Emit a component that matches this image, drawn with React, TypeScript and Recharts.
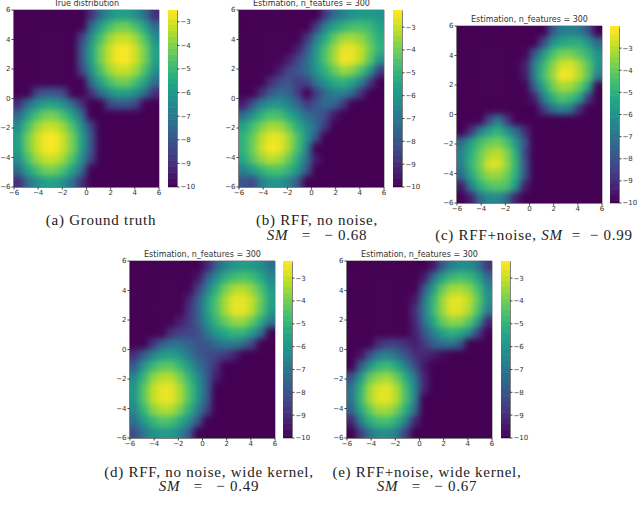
import { ScatterChart, Scatter, XAxis, YAxis, ReferenceArea } from "recharts";

// cell centres of the heat grid, left to right and top to bottom
const gridX = [-5.625, -4.875, -4.125, -3.375, -2.625, -1.875, -1.125, -0.375, 0.375, 1.125, 1.875, 2.625, 3.375, 4.125, 4.875, 5.625];
const gridY = [5.625, 4.875, 4.125, 3.375, 2.625, 1.875, 1.125, 0.375, -0.375, -1.125, -1.875, -2.625, -3.375, -4.125, -4.875, -5.625];

const axisTicks = [-6, -4, -2, 0, 2, 4, 6];
const barTicks = [-3, -4, -5, -6, -7, -8, -9, -10];
const barLevels = [-10, -9.75, -9.5, -9.25, -9, -8.75, -8.5, -8.25, -8, -7.75, -7.5, -7.25, -7, -6.75, -6.5, -6.25, -6, -5.75, -5.5, -5.25, -5, -4.75, -4.5, -4.25, -4, -3.75, -3.5, -3.25, -3, -2.75, -2.5, -2.25, -2];

const truthGrid = [
  [-10, -10, -10, -10, -10, -10, -10, -10, -9, -7.4, -6.4, -5.8, -5.8, -6.4, -7.4, -9],
  [-10, -10, -10, -10, -10, -10, -10, -10, -7.4, -5.8, -4.8, -4.2, -4.2, -4.8, -5.8, -7.4],
  [-10, -10, -10, -10, -10, -10, -10, -8.5, -6.4, -4.8, -3.7, -3.2, -3.2, -3.7, -4.8, -6.4],
  [-10, -10, -10, -10, -10, -10, -10, -8, -5.8, -4.2, -3.2, -2.6, -2.6, -3.2, -4.2, -5.8],
  [-10, -10, -10, -10, -10, -10, -10, -8, -5.8, -4.2, -3.2, -2.6, -2.6, -3.2, -4.2, -5.8],
  [-10, -10, -10, -10, -10, -10, -10, -8.5, -6.4, -4.8, -3.7, -3.2, -3.2, -3.7, -4.8, -6.4],
  [-10, -10, -10, -10, -10, -10, -10, -10, -7.4, -5.8, -4.8, -4.2, -4.2, -4.8, -5.8, -7.4],
  [-10, -10, -8.5, -8, -8, -8.5, -10, -10, -9, -7.4, -6.4, -5.8, -5.8, -6.4, -7.4, -9],
  [-9, -7.4, -6.4, -5.8, -5.8, -6.4, -7.4, -9, -10, -10, -8.5, -8, -8, -8.5, -10, -10],
  [-7.4, -5.8, -4.8, -4.2, -4.2, -4.8, -5.8, -7.4, -10, -10, -10, -10, -10, -10, -10, -10],
  [-6.4, -4.8, -3.7, -3.2, -3.2, -3.7, -4.8, -6.4, -8.5, -10, -10, -10, -10, -10, -10, -10],
  [-5.8, -4.2, -3.2, -2.6, -2.6, -3.2, -4.2, -5.8, -8, -10, -10, -10, -10, -10, -10, -10],
  [-5.8, -4.2, -3.2, -2.6, -2.6, -3.2, -4.2, -5.8, -8, -10, -10, -10, -10, -10, -10, -10],
  [-6.4, -4.8, -3.7, -3.2, -3.2, -3.7, -4.8, -6.4, -8.5, -10, -10, -10, -10, -10, -10, -10],
  [-7.4, -5.8, -4.8, -4.2, -4.2, -4.8, -5.8, -7.4, -10, -10, -10, -10, -10, -10, -10, -10],
  [-9, -7.4, -6.4, -5.8, -5.8, -6.4, -7.4, -9, -10, -10, -10, -10, -10, -10, -10, -10],
];

const rffGrid = [
  [-10, -10, -10, -10, -10, -10, -10, -10, -10, -8.7, -7.3, -6.7, -6.1, -5.9, -5.9, -6.1],
  [-10, -10, -10, -10, -10, -10, -10, -10, -8.7, -6.7, -5.6, -5.1, -4.7, -4.6, -4.9, -5.6],
  [-10, -10, -10, -10, -10, -10, -10, -8.9, -6.8, -5.4, -4.2, -3.5, -3.4, -3.7, -4.4, -5.3],
  [-10, -10, -10, -10, -10, -10, -9.4, -7.9, -6, -4.6, -3.5, -2.6, -2.6, -3.1, -4.1, -5.1],
  [-10, -10, -10, -10, -10, -9.4, -8.4, -7.3, -5.8, -4.5, -3.4, -2.4, -2.6, -3.2, -4.4, -6.1],
  [-10, -10, -10, -10, -9.4, -8.4, -8, -7.3, -6.1, -5.1, -4.2, -3.5, -3.8, -4.6, -6.1, -8.7],
  [-10, -10, -10, -9, -8.4, -8, -8.7, -8.4, -7, -6.1, -5.3, -5.1, -5.6, -6.7, -8.7, -10],
  [-10, -10, -9, -7.9, -7.3, -7.5, -8.7, -10, -8.7, -7.3, -6.7, -6.7, -7.3, -9, -10, -10],
  [-9.4, -8, -6.7, -6.1, -6.1, -6.7, -7.5, -8.7, -8, -7.3, -7.5, -8.7, -10, -10, -10, -10],
  [-7.3, -6.1, -5.1, -4.6, -4.7, -5.4, -6.3, -7.3, -7.7, -8.2, -9.5, -10, -10, -10, -10, -10],
  [-5.6, -4.7, -3.9, -3.4, -3.5, -4.2, -5.3, -6.3, -7.3, -8.7, -10, -10, -10, -10, -10, -10],
  [-5.1, -4.2, -3.1, -2.6, -2.6, -3.4, -4.6, -6.1, -8, -10, -10, -10, -10, -10, -10, -10],
  [-5.1, -4, -3, -2.4, -2.6, -3.4, -4.7, -6.7, -10, -10, -10, -10, -10, -10, -10, -10],
  [-5.4, -4.4, -3.6, -3.1, -3.4, -4.2, -5.3, -7.3, -9.5, -10, -10, -10, -10, -10, -10, -10],
  [-6.7, -5.9, -5.1, -4.6, -4.6, -5.1, -6.1, -8, -10, -10, -10, -10, -10, -10, -10, -10],
  [-8, -8.4, -6.7, -6.1, -6.1, -6.7, -8, -10, -10, -10, -10, -10, -10, -10, -10, -10],
];

const rffNoiseGrid = [
  [-10, -10, -10, -10, -10, -10, -10, -10, -10, -10, -8, -6.7, -6.6, -6.8, -8, -10],
  [-10, -10, -10, -10, -10, -10, -10, -10, -10, -8.4, -6.1, -5.4, -5.1, -5.1, -5.9, -7.3],
  [-10, -10, -10, -10, -10, -10, -10, -10, -8, -5.9, -4.5, -3.8, -3.8, -4.2, -4.9, -6.1],
  [-10, -10, -10, -10, -10, -10, -10, -9.4, -6.7, -4.9, -3.6, -2.7, -2.5, -3.2, -4.2, -5.9],
  [-10, -10, -10, -10, -10, -10, -10, -9.5, -6.7, -4.6, -3.4, -2.2, -2.3, -3, -4.2, -6.7],
  [-10, -10, -10, -10, -10, -10, -10, -10, -7.7, -5.4, -4, -3.2, -3.3, -4, -5.4, -10],
  [-10, -10, -10, -10, -10, -10, -10, -10, -9.4, -6.7, -5.1, -4.3, -4.6, -5.4, -8.7, -10],
  [-10, -10, -10, -10, -10, -10, -10, -10, -10, -8.7, -7, -6.4, -6.8, -9, -10, -10],
  [-10, -10, -10, -8.4, -6.7, -8.7, -10, -10, -10, -10, -10, -10, -10, -10, -10, -10],
  [-10, -9, -6.7, -5.6, -4.9, -6.1, -7.3, -9, -10, -10, -10, -10, -10, -10, -10, -10],
  [-7.3, -5.6, -4.6, -4, -3.8, -4.4, -5.9, -8, -10, -10, -10, -10, -10, -10, -10, -10],
  [-6.4, -5.1, -4, -3.2, -2.9, -3.6, -5.1, -8.4, -10, -10, -10, -10, -10, -10, -10, -10],
  [-6.7, -4.9, -3.8, -2.6, -2.5, -3.4, -4.9, -8, -10, -10, -10, -10, -10, -10, -10, -10],
  [-7.3, -5.4, -4.2, -3.4, -3.4, -3.9, -5.1, -8, -10, -10, -10, -10, -10, -10, -10, -10],
  [-9.4, -6.7, -5.1, -4.4, -4.2, -4.4, -5.9, -9.4, -10, -10, -10, -10, -10, -10, -10, -10],
  [-10, -9.4, -7.3, -6.4, -6.4, -7.3, -9.4, -10, -10, -10, -10, -10, -10, -10, -10, -10],
];

const wideGrid = [
  [-10, -10, -10, -10, -10, -10, -10, -10, -9.2, -7.8, -6.6, -6, -5.7, -5.9, -6.3, -7.2],
  [-10, -10, -10, -10, -10, -10, -10, -9.6, -7.8, -6.3, -5.2, -4.7, -4.5, -4.7, -5.4, -6.5],
  [-10, -10, -10, -10, -10, -10, -10, -8.6, -6.8, -5.2, -4, -3.3, -3.2, -3.7, -4.6, -5.9],
  [-10, -10, -10, -10, -10, -10, -9.3, -7.8, -5.8, -4.5, -3.4, -2.6, -2.6, -3.1, -4.2, -5.6],
  [-10, -10, -10, -10, -10, -10, -9, -7.6, -5.8, -4.5, -3.4, -2.6, -2.6, -3.2, -4.4, -5.9],
  [-10, -10, -10, -10, -10, -9.4, -8.8, -7.8, -6.2, -5, -4.2, -3.6, -3.6, -4.3, -5.4, -7],
  [-10, -10, -10, -10, -9, -8.6, -8.5, -8.2, -7, -6, -5.4, -5, -5.1, -5.9, -7.3, -10],
  [-10, -10, -8.9, -7.8, -7.2, -7.2, -7.6, -8, -8, -7.3, -6.9, -6.8, -7.3, -8.5, -10, -10],
  [-9, -7.8, -6.6, -5.9, -5.7, -6.1, -7, -7.8, -8.2, -8.5, -8.7, -9.3, -10, -10, -10, -10],
  [-7.8, -6, -4.9, -4.4, -4.3, -4.9, -5.9, -7, -8, -9, -10, -10, -10, -10, -10, -10],
  [-6.5, -5, -3.7, -3.2, -3.2, -3.9, -5, -6.3, -7.8, -9.4, -10, -10, -10, -10, -10, -10],
  [-6, -4.4, -3.1, -2.6, -2.6, -3.3, -4.5, -6, -7.7, -10, -10, -10, -10, -10, -10, -10],
  [-6, -4.4, -3.1, -2.6, -2.6, -3.3, -4.5, -6, -7.9, -10, -10, -10, -10, -10, -10, -10],
  [-6.5, -5, -3.8, -3.3, -3.3, -4, -5.2, -6.7, -8.6, -10, -10, -10, -10, -10, -10, -10],
  [-7.2, -6, -5, -4.5, -4.6, -5.3, -6.4, -8, -10, -10, -10, -10, -10, -10, -10, -10],
  [-8.2, -7, -6.2, -5.9, -5.9, -6.5, -7.8, -10, -10, -10, -10, -10, -10, -10, -10, -10],
];

const wideNoiseGrid = [
  [-10, -10, -10, -10, -10, -10, -10, -10, -10, -9.5, -7.8, -6.7, -6.2, -6.3, -7, -8.8],
  [-10, -10, -10, -10, -10, -10, -10, -10, -9.5, -7.2, -5.6, -4.8, -4.6, -4.8, -5.6, -7.3],
  [-10, -10, -10, -10, -10, -10, -10, -10, -8, -5.9, -4.2, -3.4, -3.3, -3.7, -4.7, -6.4],
  [-10, -10, -10, -10, -10, -10, -10, -9.5, -7, -5, -3.5, -2.6, -2.6, -3.1, -4.3, -6.1],
  [-10, -10, -10, -10, -10, -10, -10, -9, -6.8, -4.9, -3.5, -2.6, -2.7, -3.3, -4.6, -6.8],
  [-10, -10, -10, -10, -10, -10, -10, -9.2, -7.2, -5.5, -4.2, -3.6, -3.7, -4.4, -5.9, -9.2],
  [-10, -10, -10, -10, -10, -10, -10, -9.4, -8, -6.7, -5.6, -5.1, -5.4, -6.3, -8.7, -10],
  [-10, -10, -10, -9, -8.6, -8.6, -9, -9.4, -8.7, -7.8, -7.2, -7.1, -7.9, -10, -10, -10],
  [-10, -9.6, -8.1, -6.9, -6.6, -7.2, -8.1, -9, -9.2, -9.4, -9.8, -10, -10, -10, -10, -10],
  [-10, -7.8, -6, -5, -4.8, -5.4, -6.7, -8.2, -9.5, -10, -10, -10, -10, -10, -10, -10],
  [-8, -5.9, -4.2, -3.6, -3.4, -4.1, -5.3, -7, -9.2, -10, -10, -10, -10, -10, -10, -10],
  [-7, -5, -3.4, -2.7, -2.6, -3.3, -4.7, -6.5, -9.2, -10, -10, -10, -10, -10, -10, -10],
  [-7, -4.9, -3.3, -2.6, -2.6, -3.2, -4.6, -6.6, -10, -10, -10, -10, -10, -10, -10, -10],
  [-7.6, -5.4, -4.2, -3.4, -3.4, -4, -5.3, -7.3, -10, -10, -10, -10, -10, -10, -10, -10],
  [-9.2, -6.8, -5.2, -4.7, -4.6, -5.2, -6.7, -9.2, -10, -10, -10, -10, -10, -10, -10, -10],
  [-10, -8.6, -7, -6.3, -6.3, -6.8, -8.6, -10, -10, -10, -10, -10, -10, -10, -10, -10],
];

const viridis = ["#440154", "#482475", "#414487", "#355f8d", "#2a788e", "#21918c", "#22a884", "#44bf70", "#7ad151", "#bddf26", "#fde725"];

const PLOT_W = 145;
const PLOT_H = 177;
const PAD_LEFT = 30;
const PAD_TOP = 15;
const BAR_W = 9;

function hexRgb(hex: string) {
  return [1, 3, 5].map((i) => parseInt(hex.slice(i, i + 2), 16));
}

function colorFor(v: number, top: number) {
  const t = Math.min(1, Math.max(0, (v + 10) / (top + 10))) * (viridis.length - 1);
  const i = Math.min(viridis.length - 2, Math.floor(t));
  const a = hexRgb(viridis[i]);
  const b = hexRgb(viridis[i + 1]);
  const c = a.map((p, k) => Math.round(p + (b[k] - p) * (t - i)));
  return `rgb(${c[0]},${c[1]},${c[2]})`;
}

const fmt = (v: number) => String(v).replace("-", "\u2212");
const tickStyle = { fontSize: 7, fill: "#333", fontFamily: "DejaVu Sans" };

function HeatCell(props: any) {
  const { cx, cy, payload } = props;
  const w = PLOT_W / gridX.length;
  const h = PLOT_H / gridY.length;
  // edge cells run past the frame so the blur does not fade at the border
  const left = payload.col === 0 ? 14 : 0;
  const right = payload.col === gridX.length - 1 ? 14 : 0;
  const up = payload.row === 0 ? 14 : 0;
  const down = payload.row === gridY.length - 1 ? 14 : 0;
  return (
    <rect
      x={cx - w / 2 - left}
      y={cy - h / 2 - up}
      width={w + left + right + 0.5}
      height={h + up + down + 0.5}
      fill={payload.color}
    />
  );
}

function BarCell(props: any) {
  const { cy, payload } = props;
  const h = PLOT_H / ((payload.top + 10) / 0.25);
  return <rect x={0} y={cy - h / 2} width={BAR_W} height={h + 0.5} fill={payload.color} />;
}

function Panel({ grid, title, x, y, barX, top }: any) {
  const cells = grid.flatMap((row: number[], r: number) =>
    row.map((v, c) => ({ x: gridX[c], y: gridY[r], row: r, col: c, color: colorFor(v, top) }))
  );
  const levels = barLevels
    .filter((l) => l <= top + 0.125)
    .map((l) => ({ x: 0.5, y: l, top, color: colorFor(l, top) }));
  return (
    <>
      <div
        style={{
          position: "absolute",
          left: x - 20,
          top: y - 11,
          width: PLOT_W + 40,
          textAlign: "center",
          font: "8px 'DejaVu Sans'",
          color: "#333",
        }}
      >
        {title}
      </div>
      <div className="heat" style={{ position: "absolute", left: x - PAD_LEFT, top: y - PAD_TOP }}>
        <ScatterChart
          width={PAD_LEFT + PLOT_W + 10}
          height={PAD_TOP + PLOT_H + 20}
          margin={{ top: PAD_TOP, left: 0, right: 10, bottom: 0 }}
        >
          <XAxis
            type="number"
            dataKey="x"
            domain={[-6, 6]}
            ticks={axisTicks}
            interval={0}
            tickFormatter={fmt}
            tick={tickStyle}
            tickSize={2.5}
            tickMargin={1}
            height={20}
            stroke="#444"
          />
          <YAxis
            type="number"
            dataKey="y"
            domain={[-6, 6]}
            ticks={axisTicks}
            interval={0}
            tickFormatter={fmt}
            tick={tickStyle}
            tickSize={2.5}
            tickMargin={1}
            width={PAD_LEFT}
            stroke="#444"
          />
          <Scatter data={cells} shape={HeatCell} isAnimationActive={false} />
          <ReferenceArea x1={-6} x2={6} y1={-6} y2={6} fill="none" stroke="#555" strokeWidth={0.8} />
        </ScatterChart>
      </div>
      <div className="bar" style={{ position: "absolute", left: barX, top: y - PAD_TOP }}>
        <ScatterChart
          width={BAR_W + 28}
          height={PAD_TOP + PLOT_H + 20}
          margin={{ top: PAD_TOP, left: 0, right: 0, bottom: 20 }}
        >
          <XAxis type="number" dataKey="x" domain={[0, 1]} hide />
          <YAxis
            type="number"
            dataKey="y"
            orientation="right"
            domain={[-10, top]}
            ticks={barTicks}
            interval={0}
            tickFormatter={fmt}
            tick={tickStyle}
            tickSize={2.5}
            tickMargin={1}
            width={28}
            stroke="#444"
          />
          <Scatter data={levels} shape={BarCell} isAnimationActive={false} />
          <ReferenceArea x1={0} x2={1} y1={-10} y2={top} fill="none" stroke="#555" strokeWidth={0.8} />
        </ScatterChart>
      </div>
    </>
  );
}

function Caption({ cx, y, children }: any) {
  return (
    <div
      style={{
        position: "absolute",
        left: cx,
        top: y - 7,
        transform: "translateX(-50%)",
        whiteSpace: "pre",
        font: "15px/14px 'Liberation Serif'",
        letterSpacing: 0.75,
        color: "#222",
      }}
    >
      {children}
    </div>
  );
}

const SM = <i>SM</i>;

export default function App() {
  return (
    <div style={{ position: "absolute", left: 0, top: 0, width: 640, height: 516, background: "#fff", overflow: "hidden" }}>
      <style>{`
        .heat .recharts-scatter { filter: url(#soften); clip-path: url(#plotClip); }
        .bar .recharts-scatter { clip-path: url(#barClip); }
      `}</style>
      <svg width={0} height={0} style={{ position: "absolute" }}>
        <defs>
          <filter id="soften" x="-20%" y="-20%" width="140%" height="140%" colorInterpolationFilters="sRGB">
            <feGaussianBlur stdDeviation={3.2} />
          </filter>
          <clipPath id="plotClip">
            <rect x={PAD_LEFT} y={PAD_TOP} width={PLOT_W} height={PLOT_H} />
          </clipPath>
          <clipPath id="barClip">
            <rect x={0} y={PAD_TOP} width={BAR_W} height={PLOT_H} />
          </clipPath>
        </defs>
      </svg>

      <Panel grid={truthGrid} title="True distribution" x={14} y={10} barX={168} top={-2.54} />
      <Panel grid={rffGrid} title="Estimation, n_features = 300" x={239} y={10} barX={393} top={-2.35} />
      <Panel grid={rffNoiseGrid} title="Estimation, n_features = 300" x={457} y={26} barX={610} top={-2.12} />
      <Panel grid={wideGrid} title="Estimation, n_features = 300" x={130} y={261} barX={283} top={-2.35} />
      <Panel grid={wideNoiseGrid} title="Estimation, n_features = 300" x={347} y={261} barX={501} top={-2.3} />

      <Caption cx={101} y={220}>(a) Ground truth</Caption>
      <Caption cx={317} y={220}>(b) RFF, no noise,</Caption>
      <Caption cx={317} y={235}>{SM}   =   − 0.68</Caption>
      <Caption cx={534} y={235}>(c) RFF+noise, {SM}  =  − 0.99</Caption>
      <Caption cx={209} y={472}>(d) RFF, no noise, wide kernel,</Caption>
      <Caption cx={209} y={486}>{SM}   =   − 0.49</Caption>
      <Caption cx={427} y={472}>(e) RFF+noise, wide kernel,</Caption>
      <Caption cx={427} y={486}>{SM}   =   − 0.67</Caption>
    </div>
  );
}
